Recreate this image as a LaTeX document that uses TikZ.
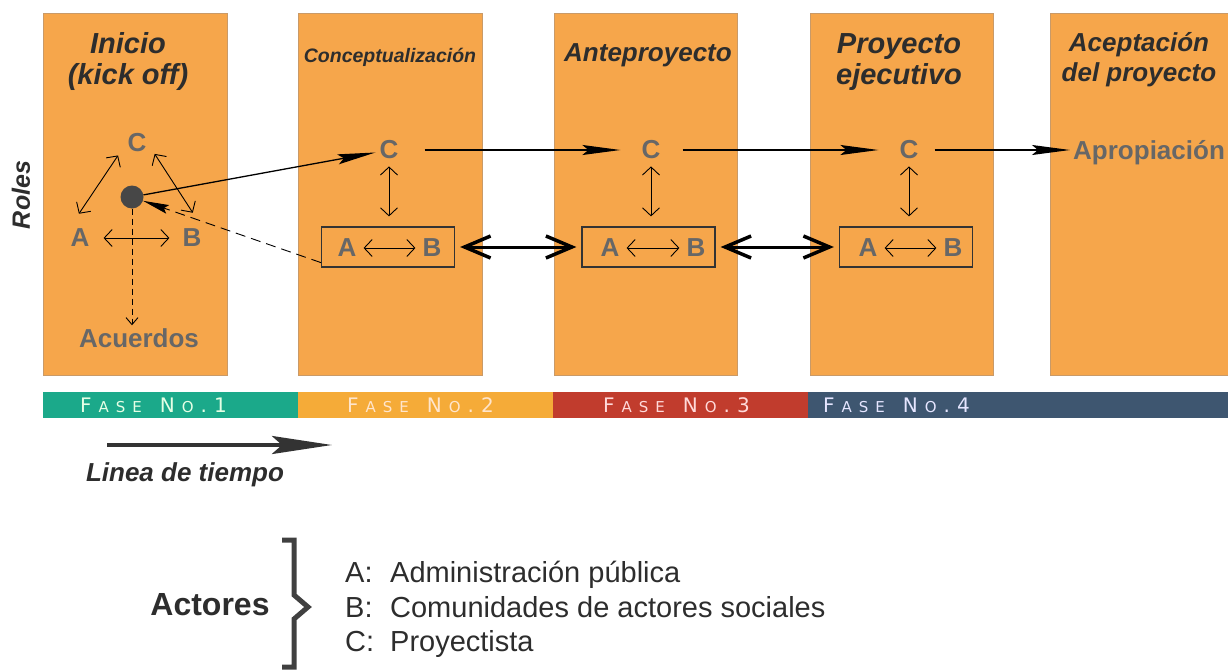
\documentclass[tikz,border=0pt]{standalone}
\usepackage{fontspec}
\setmainfont{Liberation Sans}
\newfontfamily\fasefont{DejaVu Sans}
\usetikzlibrary{arrows.meta}

\definecolor{boxorange}{HTML}{F6A64B}
\definecolor{boxedge}{HTML}{C99A68}
\definecolor{lblgray}{HTML}{676767}
\definecolor{headdark}{HTML}{2D2D2D}
\definecolor{hubgray}{HTML}{474747}
\definecolor{fasegreen}{HTML}{1BA98A}
\definecolor{faseyellow}{HTML}{F5AB38}
\definecolor{fasered}{HTML}{C13C2D}
\definecolor{faseblue}{HTML}{3E5670}

% rotulo de fase en versalitas, espaciado
\newcommand{\fbig}{\fontsize{20}{20}\selectfont}
\newcommand{\fsmall}{\fontsize{15}{15}\selectfont}
\newcommand{\fasetxt}[1]{\fasefont{\fbig F}\hspace{7pt}{\fsmall A}\hspace{7pt}{\fsmall S}\hspace{7pt}{\fsmall E}\hspace{18pt}{\fbig N}\hspace{7pt}{\fsmall O}\hspace{7pt}{\fbig .}\hspace{7pt}{\fbig #1}}

\begin{document}
\begin{tikzpicture}[x=1pt, y=-1pt,
    lbl/.style={font=\bfseries\fontsize{26}{26}\selectfont, text=lblgray, inner sep=1pt},
    heading/.style={font=\bfseries\itshape\fontsize{29}{31}\selectfont, text=headdark, align=center, anchor=north, inner sep=0pt},
    abbox/.style={draw=black!80, line width=1.2pt, minimum width=133pt, minimum height=40pt, inner sep=0pt},
    thinarr/.style={{Straight Barb[length=8pt, width=17pt]}-{Straight Barb[length=8pt, width=17pt]}, line width=0.9pt},
    longarr/.style={-{Stealth[length=38pt, width=10pt, inset=6pt]}, line width=1.3pt},
    thickarr/.style={{Straight Barb[length=26pt, width=22pt, line width=3.5pt]}-{Straight Barb[length=26pt, width=22pt, line width=3.5pt]}, line width=3pt, shorten <=5pt, shorten >=5pt},
    fasetext/.style={anchor=west, inner sep=0pt},
    listtxt/.style={anchor=base west, inner sep=0pt, font=\fontsize{29}{29}\selectfont, text=headdark}]
    \useasboundingbox (0,0) rectangle (1228,669);

    % Fases (columnas)
    \draw[fill=boxorange, draw=boxedge, line width=1pt] (43,14) rectangle (227,375);
    \draw[fill=boxorange, draw=boxedge, line width=1pt] (298,14) rectangle (482,375);
    \draw[fill=boxorange, draw=boxedge, line width=1pt] (554,14) rectangle (737,375);
    \draw[fill=boxorange, draw=boxedge, line width=1pt] (810,14) rectangle (993,375);
    \fill[boxorange] (1050,14) rectangle (1228,375);
    \draw[boxedge, line width=1pt] (1228,14) -- (1050,14) -- (1050,375) -- (1228,375);

    % Titulos
    \node[heading] (h1) at (128,32) {Inicio\\(kick off)};
    \node[heading, font=\bfseries\itshape\fontsize{19.5}{22}\selectfont] (h2) at (390,48) {Conceptualización};
    \node[heading, font=\bfseries\itshape\fontsize{26}{30}\selectfont] (h3) at (648,43) {Anteproyecto};
    \node[heading] (h4) at (899,33) {Proyecto\\ejecutivo};
    \node[heading, font=\bfseries\itshape\fontsize{26}{30}\selectfont] (h5) at (1139,32) {Aceptación\\del proyecto};
    \node[rotate=90, font=\bfseries\itshape\fontsize{25}{25}\selectfont, text=headdark] (roles) at (21,195) {Roles};

    % Inicio
    \node[lbl] (c1) at (137,143) {C};
    \node[lbl] (a1) at (80,238) {A};
    \node[lbl] (b1) at (192,238) {B};
    \node[circle, fill=hubgray, minimum size=23pt, inner sep=0pt] (hub) at (132,197) {};
    \node[lbl] (acu) at (139,338) {Acuerdos};
    \draw[thinarr, shorten <=17pt, shorten >=15pt] (a1.north west) -- (c1.west);
    \draw[thinarr, shorten <=13pt, shorten >=18pt] (c1.east) -- (b1.north east);
    \draw[thinarr, shorten <=13pt, shorten >=12pt] (a1) -- (b1);
    \draw[dashed, dash pattern=on 6pt off 4pt, line width=0.9pt, -{Straight Barb[length=7pt, width=12pt]}, shorten >=2pt] (hub) -- (hub |- acu.north);

    % Conceptualizacion
    \node[lbl] (c2) at (389,150) {C};
    \node[abbox] (ab2) at (388,247) {};
    \node[lbl] (a2) at (347,248) {A};
    \node[lbl] (b2) at (432,248) {B};
    \draw[thinarr, shorten <=6pt, shorten >=6pt] (a2) -- (b2);
    \draw[thinarr, shorten <=6pt, shorten >=10pt] (c2) -- (c2 |- ab2.north);

    % Anteproyecto
    \node[lbl] (c3) at (651,150) {C};
    \node[abbox] (ab3) at (648.5,247) {};
    \node[lbl] (a3) at (610,248) {A};
    \node[lbl] (b3) at (696,248) {B};
    \draw[thinarr, shorten <=6pt, shorten >=6pt] (a3) -- (b3);
    \draw[thinarr, shorten <=6pt, shorten >=10pt] (c3) -- (c3 |- ab3.north);

    % Proyecto ejecutivo
    \node[lbl] (c4) at (909,150) {C};
    \node[abbox] (ab4) at (906,247) {};
    \node[lbl] (a4) at (868,248) {A};
    \node[lbl] (b4) at (953,248) {B};
    \draw[thinarr, shorten <=6pt, shorten >=6pt] (a4) -- (b4);
    \draw[thinarr, shorten <=6pt, shorten >=10pt] (c4) -- (c4 |- ab4.north);

    % Aceptacion
    \node[lbl, anchor=base west] (apro) at (1072,159.5) {Apropiación};

    % Flujo entre fases
    \draw[longarr, shorten >=3pt] (hub) -- (c2);
    \draw[dashed, dash pattern=on 10pt off 6pt, line width=0.9pt, -{Stealth[length=26pt, width=9pt, inset=4pt]}] ([yshift=5pt]ab2.south west) -- (hub);
    \draw[longarr, shorten <=25pt, shorten >=20pt] (c2) -- (c3);
    \draw[longarr, shorten <=21pt, shorten >=20pt] (c3) -- (c4);
    \draw[longarr, shorten <=15pt, shorten >=2pt] (c4) -- (c4 -| apro.west);
    \draw[thickarr] (ab2) -- (ab3);
    \draw[thickarr] (ab3) -- (ab4);

    % Barra de fases
    \fill[fasegreen] (43,392) rectangle (298,418);
    \fill[faseyellow] (298,392) rectangle (553,418);
    \fill[fasered] (553,392) rectangle (808,418);
    \fill[faseblue] (808,392) rectangle (1228,418);
    \node[fasetext, text=green!10!white] (f1) at (80,405) {\fasetxt{1}};
    \node[fasetext, text=orange!20!white] (f2) at (347,405) {\fasetxt{2}};
    \node[fasetext, text=red!15!white] (f3) at (603,405) {\fasetxt{3}};
    \node[fasetext, text=blue!10!white] (f4) at (823,405) {\fasetxt{4}};

    % Linea de tiempo
    \coordinate (t0) at (107,445);
    \coordinate (t1) at (332,445);
    \draw[line width=4pt, draw=black!80, -{Stealth[length=60pt, width=18pt, inset=10pt]}] (t0) -- (t1);
    \node[font=\bfseries\itshape\fontsize{26}{26}\selectfont, text=headdark, anchor=base] (tl) at (185,481) {Linea de tiempo};

    % Actores
    \node[font=\bfseries\fontsize{32}{32}\selectfont, text=headdark] (act) at (210,605) {Actores};
    \draw[line width=5pt, draw=black!75] (282,540) -- (294,540) -- (294,595) -- (308,607) -- (294,619) -- (294,667) -- (282,667);
    \node[listtxt] (la) at (345,582) {\makebox[45pt][l]{A:}Administración pública};
    \node[listtxt] (lb) at (345,617) {\makebox[45pt][l]{B:}Comunidades de actores sociales};
    \node[listtxt] (lc) at (345,651) {\makebox[45pt][l]{C:}Proyectista};
\end{tikzpicture}
\end{document}
